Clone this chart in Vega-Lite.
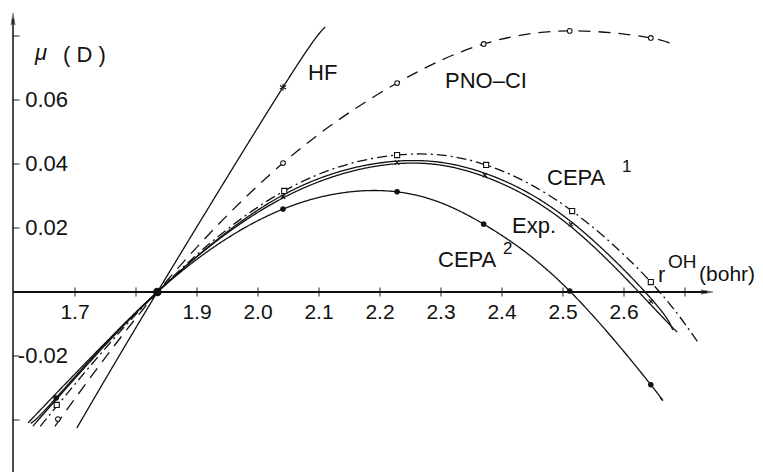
{
  "$schema": "https://vega.github.io/schema/vega-lite/v6.json",
  "width": 763,
  "height": 472,
  "autosize": {"type": "none"},
  "padding": 0,
  "background": "white",
  "config": {"view": {"stroke": null}, "font": "Liberation Sans"},
  "datasets": {
    "curves": [
      {"series": "HF", "r": 1.703, "mu": -0.0425},
      {"series": "HF", "r": 1.835, "mu": 0},
      {"series": "HF", "r": 2.041, "mu": 0.064},
      {"series": "HF", "r": 2.110, "mu": 0.0828},
      {"series": "PNO-CI", "r": 1.667, "mu": -0.042},
      {"series": "PNO-CI", "r": 1.835, "mu": 0},
      {"series": "PNO-CI", "r": 2.041, "mu": 0.0403},
      {"series": "PNO-CI", "r": 2.228, "mu": 0.0653},
      {"series": "PNO-CI", "r": 2.370, "mu": 0.0775},
      {"series": "PNO-CI", "r": 2.511, "mu": 0.0816},
      {"series": "PNO-CI", "r": 2.644, "mu": 0.0794},
      {"series": "PNO-CI", "r": 2.680, "mu": 0.0769},
      {"series": "CEPA 1", "r": 1.643, "mu": -0.042},
      {"series": "CEPA 1", "r": 1.835, "mu": 0},
      {"series": "CEPA 1", "r": 2.043, "mu": 0.0316},
      {"series": "CEPA 1", "r": 2.228, "mu": 0.0428},
      {"series": "CEPA 1", "r": 2.374, "mu": 0.0397},
      {"series": "CEPA 1", "r": 2.515, "mu": 0.0253},
      {"series": "CEPA 1", "r": 2.644, "mu": 0.0031},
      {"series": "CEPA 1", "r": 2.721, "mu": -0.0156},
      {"series": "Exp. a", "r": 1.623, "mu": -0.0409},
      {"series": "Exp. a", "r": 1.835, "mu": 0},
      {"series": "Exp. a", "r": 2.041, "mu": 0.0303},
      {"series": "Exp. a", "r": 2.228, "mu": 0.0409},
      {"series": "Exp. a", "r": 2.372, "mu": 0.0371},
      {"series": "Exp. a", "r": 2.513, "mu": 0.0220},
      {"series": "Exp. a", "r": 2.644, "mu": -0.0020},
      {"series": "Exp. a", "r": 2.680, "mu": -0.0119},
      {"series": "Exp. b", "r": 1.631, "mu": -0.0419},
      {"series": "Exp. b", "r": 1.835, "mu": 0},
      {"series": "Exp. b", "r": 2.041, "mu": 0.0294},
      {"series": "Exp. b", "r": 2.228, "mu": 0.0401},
      {"series": "Exp. b", "r": 2.372, "mu": 0.0360},
      {"series": "Exp. b", "r": 2.513, "mu": 0.0204},
      {"series": "Exp. b", "r": 2.644, "mu": -0.0040},
      {"series": "Exp. b", "r": 2.687, "mu": -0.0125},
      {"series": "CEPA 2", "r": 1.627, "mu": -0.0410},
      {"series": "CEPA 2", "r": 1.669, "mu": -0.0331},
      {"series": "CEPA 2", "r": 1.835, "mu": 0},
      {"series": "CEPA 2", "r": 2.041, "mu": 0.0259},
      {"series": "CEPA 2", "r": 2.228, "mu": 0.0313},
      {"series": "CEPA 2", "r": 2.370, "mu": 0.0212},
      {"series": "CEPA 2", "r": 2.511, "mu": 0.0003},
      {"series": "CEPA 2", "r": 2.644, "mu": -0.0290},
      {"series": "CEPA 2", "r": 2.659, "mu": -0.0330}
    ],
    "markers": [
      {"series": "PNO-CI", "r": 1.672, "mu": -0.0397},
      {"series": "PNO-CI", "r": 2.041, "mu": 0.0403},
      {"series": "PNO-CI", "r": 2.228, "mu": 0.0653},
      {"series": "PNO-CI", "r": 2.370, "mu": 0.0775},
      {"series": "PNO-CI", "r": 2.511, "mu": 0.0816},
      {"series": "PNO-CI", "r": 2.644, "mu": 0.0794},
      {"series": "CEPA 1", "r": 1.670, "mu": -0.0353},
      {"series": "CEPA 1", "r": 2.043, "mu": 0.0316},
      {"series": "CEPA 1", "r": 2.228, "mu": 0.0428},
      {"series": "CEPA 1", "r": 2.374, "mu": 0.0397},
      {"series": "CEPA 1", "r": 2.515, "mu": 0.0253},
      {"series": "CEPA 1", "r": 2.644, "mu": 0.0031},
      {"series": "CEPA 2", "r": 1.669, "mu": -0.0331},
      {"series": "CEPA 2", "r": 2.041, "mu": 0.0259},
      {"series": "CEPA 2", "r": 2.228, "mu": 0.0313},
      {"series": "CEPA 2", "r": 2.370, "mu": 0.0212},
      {"series": "CEPA 2", "r": 2.511, "mu": 0.0003},
      {"series": "CEPA 2", "r": 2.644, "mu": -0.0290},
      {"series": "Exp.", "r": 2.041, "mu": 0.0298},
      {"series": "Exp.", "r": 2.228, "mu": 0.0405},
      {"series": "Exp.", "r": 2.372, "mu": 0.0365},
      {"series": "Exp.", "r": 2.513, "mu": 0.0212},
      {"series": "Exp.", "r": 2.644, "mu": -0.0030},
      {"series": "HF", "r": 2.041, "mu": 0.0640},
      {"series": "common", "r": 1.835, "mu": 0}
    ],
    "xticks": [
      {"r": 1.7, "label": "1.7"},
      {"r": 1.8, "label": ""},
      {"r": 1.9, "label": "1.9"},
      {"r": 2.0, "label": "2.0"},
      {"r": 2.1, "label": "2.1"},
      {"r": 2.2, "label": "2.2"},
      {"r": 2.3, "label": "2.3"},
      {"r": 2.4, "label": "2.4"},
      {"r": 2.5, "label": "2.5"},
      {"r": 2.6, "label": "2.6"},
      {"r": 2.7, "label": ""}
    ],
    "yticks": [
      {"mu": 0.08, "label": ""},
      {"mu": 0.06, "label": "0.06"},
      {"mu": 0.04, "label": "0.04"},
      {"mu": 0.02, "label": "0.02"},
      {"mu": -0.02, "label": "-0.02"},
      {"mu": -0.04, "label": ""}
    ],
    "labels": [
      {"text": "HF", "role": "main", "r": 2.082, "mu": 0.06625},
      {"text": "PNO–CI", "role": "main", "r": 2.3066, "mu": 0.06375},
      {"text": "CEPA", "role": "main", "r": 2.4738, "mu": 0.03344},
      {"text": "1", "role": "sup", "r": 2.5967, "mu": 0.0375},
      {"text": "Exp.", "role": "main", "r": 2.4164, "mu": 0.01844},
      {"text": "CEPA", "role": "main", "r": 2.2951, "mu": 0.00781},
      {"text": "2", "role": "sup", "r": 2.4016, "mu": 0.0119},
      {"text": "r", "role": "main", "r": 2.6557, "mu": 0.003125},
      {"text": "OH", "role": "mid", "r": 2.6721, "mu": 0.0075},
      {"text": "(bohr)", "role": "unit", "r": 2.7230, "mu": 0.0034},
      {"text": "( D )", "role": "main", "r": 1.6803, "mu": 0.0719}
    ],
    "greek": [
      {"text": "μ", "r": 1.6344, "mu": 0.0725}
    ]
  },
  "layer": [
    {
      "data": {"values": [{}]},
      "mark": {"type": "rule", "stroke": "#111", "strokeWidth": 1.8},
      "encoding": {
        "x": {"datum": 1.5984, "type": "quantitative", "scale": {"domain": [1.57705, 2.82787], "nice": false, "zero": false}, "axis": null},
        "x2": {"datum": 2.736},
        "y": {"datum": 0, "type": "quantitative", "scale": {"domain": [-0.05625, 0.09125], "nice": false, "zero": false}, "axis": null}
      }
    },
    {
      "data": {"values": [{}]},
      "mark": {"type": "rule", "stroke": "#111", "strokeWidth": 1.5},
      "encoding": {
        "x": {"datum": 1.5984, "type": "quantitative", "scale": {"domain": [1.57705, 2.82787], "nice": false, "zero": false}, "axis": null},
        "y": {"datum": -0.05625, "type": "quantitative", "scale": {"domain": [-0.05625, 0.09125], "nice": false, "zero": false}, "axis": null},
        "y2": {"datum": 0.0853}
      }
    },
    {
      "data": {"values": [{}]},
      "mark": {"type": "point", "filled": true, "fill": "#111", "stroke": "#111", "strokeWidth": 0.5, "shape": "M1,0L-1,-0.35L-0.6,0L-1,0.35Z", "size": 150},
      "encoding": {
        "x": {"datum": 2.736, "type": "quantitative", "scale": {"domain": [1.57705, 2.82787], "nice": false, "zero": false}, "axis": null},
        "y": {"datum": 0, "type": "quantitative", "scale": {"domain": [-0.05625, 0.09125], "nice": false, "zero": false}, "axis": null}
      }
    },
    {
      "data": {"values": [{}]},
      "mark": {"type": "point", "filled": true, "fill": "#111", "stroke": "#111", "strokeWidth": 0.5, "shape": "M0,-1L0.35,1L0,0.6L-0.35,1Z", "size": 150},
      "encoding": {
        "x": {"datum": 1.5984, "type": "quantitative", "scale": {"domain": [1.57705, 2.82787], "nice": false, "zero": false}, "axis": null},
        "y": {"datum": 0.0853, "type": "quantitative", "scale": {"domain": [-0.05625, 0.09125], "nice": false, "zero": false}, "axis": null}
      }
    },
    {
      "data": {"name": "xticks"},
      "mark": {"type": "tick", "orient": "vertical", "color": "#111", "thickness": 1.3, "size": 9},
      "encoding": {
        "x": {"field": "r", "type": "quantitative", "scale": {"domain": [1.57705, 2.82787], "nice": false, "zero": false}, "axis": null},
        "y": {"datum": 0, "type": "quantitative", "scale": {"domain": [-0.05625, 0.09125], "nice": false, "zero": false}, "axis": null}
      }
    },
    {
      "data": {"name": "xticks"},
      "mark": {"type": "text", "color": "#111", "fontSize": 21, "align": "center", "baseline": "middle", "dy": 21},
      "encoding": {
        "x": {"field": "r", "type": "quantitative", "scale": {"domain": [1.57705, 2.82787], "nice": false, "zero": false}, "axis": null},
        "y": {"datum": 0, "type": "quantitative", "scale": {"domain": [-0.05625, 0.09125], "nice": false, "zero": false}, "axis": null},
        "text": {"field": "label"}
      }
    },
    {
      "data": {"name": "yticks"},
      "mark": {"type": "tick", "orient": "horizontal", "color": "#111", "thickness": 1.3, "size": 7, "xOffset": 3},
      "encoding": {
        "x": {"datum": 1.5984, "type": "quantitative", "scale": {"domain": [1.57705, 2.82787], "nice": false, "zero": false}, "axis": null},
        "y": {"field": "mu", "type": "quantitative", "scale": {"domain": [-0.05625, 0.09125], "nice": false, "zero": false}, "axis": null}
      }
    },
    {
      "data": {"name": "yticks"},
      "mark": {"type": "text", "color": "#111", "fontSize": 22, "align": "right", "baseline": "middle", "dx": 55},
      "encoding": {
        "x": {"datum": 1.5984, "type": "quantitative", "scale": {"domain": [1.57705, 2.82787], "nice": false, "zero": false}, "axis": null},
        "y": {"field": "mu", "type": "quantitative", "scale": {"domain": [-0.05625, 0.09125], "nice": false, "zero": false}, "axis": null},
        "text": {"field": "label"}
      }
    },
    {
      "data": {"name": "curves"},
      "mark": {"type": "line", "interpolate": "natural", "color": "#111", "strokeWidth": 1.3},
      "encoding": {
        "x": {"field": "r", "type": "quantitative", "scale": {"domain": [1.57705, 2.82787], "nice": false, "zero": false}, "axis": null},
        "y": {"field": "mu", "type": "quantitative", "scale": {"domain": [-0.05625, 0.09125], "nice": false, "zero": false}, "axis": null},
        "detail": {"field": "series"},
        "strokeDash": {
          "field": "series", "type": "nominal", "legend": null,
          "scale": {
            "domain": ["HF", "PNO-CI", "CEPA 1", "Exp. a", "Exp. b", "CEPA 2"],
            "range": [[1, 0], [12, 8], [10, 4, 2, 4], [1, 0], [1, 0], [1, 0]]
          }
        }
      }
    },
    {
      "data": {"name": "markers"},
      "mark": {"type": "point", "filled": true, "stroke": "#111", "strokeWidth": 1.1, "opacity": 1},
      "encoding": {
        "x": {"field": "r", "type": "quantitative", "scale": {"domain": [1.57705, 2.82787], "nice": false, "zero": false}, "axis": null},
        "y": {"field": "mu", "type": "quantitative", "scale": {"domain": [-0.05625, 0.09125], "nice": false, "zero": false}, "axis": null},
        "shape": {
          "field": "series", "type": "nominal", "legend": null,
          "scale": {
            "domain": ["PNO-CI", "CEPA 1", "CEPA 2", "Exp.", "HF", "common"],
            "range": ["circle", "square", "circle", "M-1,-1L1,1M1,-1L-1,1", "M0,-1L0,1M-0.87,-0.5L0.87,0.5M-0.87,0.5L0.87,-0.5", "circle"]
          }
        },
        "fill": {
          "field": "series", "type": "nominal", "legend": null,
          "scale": {
            "domain": ["PNO-CI", "CEPA 1", "CEPA 2", "Exp.", "HF", "common"],
            "range": ["white", "white", "#111", "#111", "#111", "#111"]
          }
        },
        "size": {
          "field": "series", "type": "nominal", "legend": null,
          "scale": {
            "type": "ordinal",
            "domain": ["PNO-CI", "CEPA 1", "CEPA 2", "Exp.", "HF", "common"],
            "range": [22, 26, 20, 18, 50, 55]
          }
        }
      }
    },
    {
      "data": {"name": "labels"},
      "transform": [{"filter": "datum.role === 'main'"}],
      "mark": {"type": "text", "color": "#111", "align": "left", "baseline": "alphabetic", "fontSize": 22},
      "encoding": {
        "x": {"field": "r", "type": "quantitative", "scale": {"domain": [1.57705, 2.82787], "nice": false, "zero": false}, "axis": null},
        "y": {"field": "mu", "type": "quantitative", "scale": {"domain": [-0.05625, 0.09125], "nice": false, "zero": false}, "axis": null},
        "text": {"field": "text"}
      }
    },
    {
      "data": {"name": "labels"},
      "transform": [{"filter": "datum.role === 'sup'"}],
      "mark": {"type": "text", "color": "#111", "align": "left", "baseline": "alphabetic", "fontSize": 17},
      "encoding": {
        "x": {"field": "r", "type": "quantitative", "scale": {"domain": [1.57705, 2.82787], "nice": false, "zero": false}, "axis": null},
        "y": {"field": "mu", "type": "quantitative", "scale": {"domain": [-0.05625, 0.09125], "nice": false, "zero": false}, "axis": null},
        "text": {"field": "text"}
      }
    },
    {
      "data": {"name": "labels"},
      "transform": [{"filter": "datum.role === 'mid'"}],
      "mark": {"type": "text", "color": "#111", "align": "left", "baseline": "alphabetic", "fontSize": 19},
      "encoding": {
        "x": {"field": "r", "type": "quantitative", "scale": {"domain": [1.57705, 2.82787], "nice": false, "zero": false}, "axis": null},
        "y": {"field": "mu", "type": "quantitative", "scale": {"domain": [-0.05625, 0.09125], "nice": false, "zero": false}, "axis": null},
        "text": {"field": "text"}
      }
    },
    {
      "data": {"name": "labels"},
      "transform": [{"filter": "datum.role === 'unit'"}],
      "mark": {"type": "text", "color": "#111", "align": "left", "baseline": "alphabetic", "fontSize": 21},
      "encoding": {
        "x": {"field": "r", "type": "quantitative", "scale": {"domain": [1.57705, 2.82787], "nice": false, "zero": false}, "axis": null},
        "y": {"field": "mu", "type": "quantitative", "scale": {"domain": [-0.05625, 0.09125], "nice": false, "zero": false}, "axis": null},
        "text": {"field": "text"}
      }
    },
    {
      "data": {"name": "greek"},
      "mark": {"type": "text", "color": "#111", "align": "left", "baseline": "alphabetic", "fontSize": 22, "fontStyle": "italic"},
      "encoding": {
        "x": {"field": "r", "type": "quantitative", "scale": {"domain": [1.57705, 2.82787], "nice": false, "zero": false}, "axis": null},
        "y": {"field": "mu", "type": "quantitative", "scale": {"domain": [-0.05625, 0.09125], "nice": false, "zero": false}, "axis": null},
        "text": {"field": "text"}
      }
    }
  ]
}
